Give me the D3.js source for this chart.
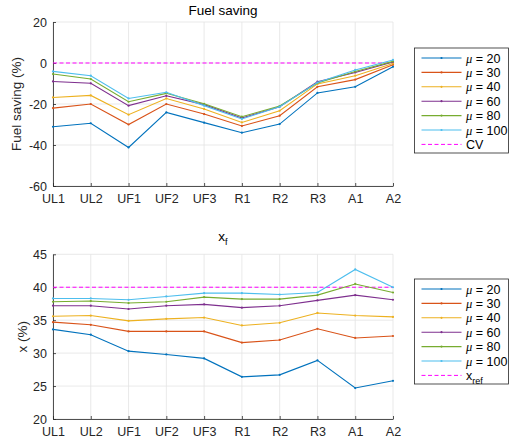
<!DOCTYPE html>
<html>
<head>
<meta charset="utf-8">
<script src="https://cdn.jsdelivr.net/npm/d3@7"></script>
<style>
body { margin: 0; background: #fff; }
svg { font-family: "Liberation Sans", Arial, sans-serif; }
.grid line { stroke: #e3e3e3; stroke-width: 0.8; }
.axis path, .axis line { stroke: #262626; stroke-width: 0.8; }
.axis text { fill: #262626; font-size: 12.5px; }
</style>
</head>
<body>
<script>
const categories = ["UL1", "UL2", "UF1", "UF2", "UF3", "R1", "R2", "R3", "A1", "A2"];
const mus = [20, 30, 40, 60, 80, 100];
const colors = ["#0072BD", "#D95319", "#EDB120", "#7E2F8E", "#77AC30", "#4DBEEE"];

// fuel saving (%) per mu
const fs20  = [-31.1, -29.4, -41.2, -24.1, -29.1, -34.0, -29.8, -14.6, -11.6, -1.8];
const fs30  = [-22.0, -20.0, -30.0, -20.0, -24.9, -30.7, -25.7, -11.6, -8.1, -0.8];
const fs40  = [-16.8, -15.8, -25.2, -17.3, -22.4, -29.0, -23.3, -10.2, -6.2, -0.2];
const fs60  = [-9.0, -9.9, -20.8, -16.0, -20.3, -26.8, -21.3, -9.1, -4.6, 0.5];
const fs80  = [-5.4, -7.8, -18.9, -14.8, -19.9, -26.2, -21.0, -9.8, -4.1, 0.8];
const fs100 = [-4.1, -6.2, -17.3, -14.3, -20.8, -27.3, -21.3, -9.5, -3.4, 1.5];
const cv = 0;

// x_f (%) per mu
const xf20  = [33.6, 32.8, 30.3, 29.8, 29.2, 26.4, 26.7, 28.9, 24.7, 25.8];
const xf30  = [34.7, 34.3, 33.3, 33.3, 33.3, 31.6, 32.0, 33.7, 32.3, 32.6];
const xf40  = [35.6, 35.7, 34.9, 35.2, 35.4, 34.2, 34.6, 36.1, 35.7, 35.5];
const xf60  = [37.2, 37.2, 36.7, 37.2, 37.4, 36.9, 37.2, 38.0, 38.8, 38.1];
const xf80  = [37.8, 37.9, 37.6, 37.8, 38.5, 38.2, 38.2, 38.8, 40.5, 39.2];
const xf100 = [38.3, 38.3, 38.1, 38.6, 39.1, 39.1, 38.9, 39.2, 42.7, 40.0];
const xref = 40;

const fsTicks = [-60, -40, -20, 0, 20];
const xfTicks = [20, 25, 30, 35, 40, 45];

const W = 509, H = 445;
const svg = d3.select("body").append("svg").attr("width", W).attr("height", H);

const x = d3.scalePoint().domain(categories).range([53, 393]);

function panel(opts) {
  const y = d3.scaleLinear().domain(opts.domain).range(opts.yRange);
  const g = svg.append("g");

  // grid
  g.append("g").attr("class", "grid").selectAll("line.v").data(categories).enter()
    .append("line").attr("x1", d => x(d)).attr("x2", d => x(d))
    .attr("y1", opts.yRange[0]).attr("y2", opts.yRange[1]);
  g.append("g").attr("class", "grid").selectAll("line.h").data(opts.ticks).enter()
    .append("line").attr("x1", x.range()[0]).attr("x2", x.range()[1])
    .attr("y1", d => y(d)).attr("y2", d => y(d));

  // axes
  g.append("g").attr("class", "axis")
    .attr("transform", `translate(0,${opts.yRange[0]})`)
    .call(d3.axisBottom(x).tickSizeInner(-3).tickSizeOuter(0).tickPadding(8));
  g.append("g").attr("class", "axis")
    .attr("transform", `translate(${x.range()[0]},0)`)
    .call(d3.axisLeft(y).tickValues(opts.ticks).tickSizeInner(-3).tickSizeOuter(0).tickPadding(6)
      .tickFormat(d3.format("d")));
  g.selectAll(".axis text").text(function() { return this.textContent.replace("−", "-"); });

  // reference line
  g.append("line")
    .attr("x1", x.range()[0]).attr("x2", x.range()[1])
    .attr("y1", y(opts.ref)).attr("y2", y(opts.ref))
    .attr("stroke", "#FF00FF").attr("stroke-width", 1).attr("stroke-dasharray", "4,2.5");

  const line = d3.line().x((d, i) => x(categories[i])).y(d => y(d));
  opts.series.forEach((s, k) => {
    g.append("path").datum(s).attr("d", line)
      .attr("fill", "none").attr("stroke", colors[k]).attr("stroke-width", 1.1);
    g.selectAll(null).data(s).enter().append("circle")
      .attr("cx", (d, i) => x(categories[i])).attr("cy", d => y(d))
      .attr("r", 1.1).attr("fill", colors[k]);
  });

  // title
  const t = svg.append("text").attr("x", 223).attr("y", opts.titleY)
    .attr("text-anchor", "middle").attr("font-size", 13.5).attr("fill", "#000");
  t.append("tspan").text(opts.title);
  if (opts.titleSub) t.append("tspan").attr("dy", 4).attr("font-size", 9).text(opts.titleSub);

  // y label
  svg.append("text")
    .attr("transform", `translate(${opts.ylabelX},${(opts.yRange[0] + opts.yRange[1]) / 2}) rotate(-90)`)
    .attr("text-anchor", "middle").attr("font-size", 13.5).attr("fill", "#262626")
    .text(opts.ylabel);

  // legend
  const lg = svg.append("g").attr("transform", `translate(414,${opts.legendY})`);
  lg.append("rect").attr("x", 0.5).attr("y", 0.5).attr("width", 94).attr("height", 105)
    .attr("fill", "#fff").attr("stroke", "#262626").attr("stroke-width", 0.8);
  mus.forEach((m, k) => {
    const yy = 10.5 + k * 14.4;
    lg.append("line").attr("x1", 7.5).attr("x2", 47.5).attr("y1", yy).attr("y2", yy)
      .attr("stroke", colors[k]).attr("stroke-width", 1.1);
    lg.append("circle").attr("cx", 27.5).attr("cy", yy).attr("r", 1.1).attr("fill", colors[k]);
    const tx = lg.append("text").attr("x", 52).attr("y", yy + 4.5).attr("font-size", 12.5).attr("fill", "#000");
    tx.append("tspan").attr("font-family", "'Liberation Serif', 'DejaVu Serif', serif")
      .attr("font-style", "italic").text("\u03bc");
    tx.append("tspan").text(" = " + m);
  });
  const yy = 10.5 + 6 * 14.4;
  lg.append("line").attr("x1", 7.5).attr("x2", 47.5).attr("y1", yy).attr("y2", yy)
    .attr("stroke", "#FF00FF").attr("stroke-width", 1).attr("stroke-dasharray", "4,2.5");
  const rt = lg.append("text").attr("x", 52).attr("y", yy + 4.5).attr("font-size", 12.5).attr("fill", "#000");
  rt.append("tspan").text(opts.refLabel);
  if (opts.refSub) rt.append("tspan").attr("dy", 4).attr("font-size", 9).text(opts.refSub);
}

panel({
  domain: [-60, 20], yRange: [186, 22], ticks: fsTicks,
  series: [fs20, fs30, fs40, fs60, fs80, fs100], ref: cv,
  title: "Fuel saving", titleY: 15, ylabel: "Fuel saving (%)", ylabelX: 21,
  legendY: 47.5, refLabel: "CV"
});

panel({
  domain: [20, 45], yRange: [419, 254.3], ticks: xfTicks,
  series: [xf20, xf30, xf40, xf60, xf80, xf100], ref: xref,
  title: "x", titleSub: "f", titleY: 241, ylabel: "x (%)", ylabelX: 27,
  legendY: 278.5, refLabel: "x", refSub: "ref"
});
</script>
</body>
</html>
